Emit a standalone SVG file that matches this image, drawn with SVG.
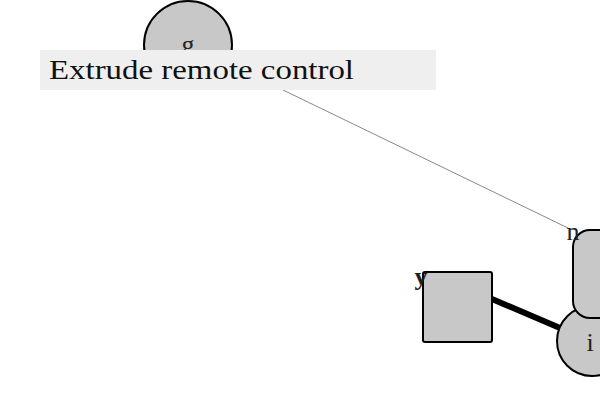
<svg xmlns="http://www.w3.org/2000/svg" width="600" height="400" viewBox="0 0 600 400">
<style>
.node{fill:#c8c8c8;stroke:#000;stroke-width:2}
.lbl{font-family:"Liberation Serif","Times New Roman",serif;font-size:26px;fill:#222}
</style>
<rect width="600" height="400" fill="#fff"/>
<g id="connectors">
<line x1="283" y1="90" x2="568" y2="228" stroke="#555" stroke-width="0.7"/>
<line x1="492" y1="299" x2="560" y2="328" stroke="#000" stroke-width="6"/>
</g>
<g id="node-g">
<circle class="node" cx="188" cy="45" r="44"/>
<text class="lbl" x="188" y="53" text-anchor="middle">g</text>
</g>
<g id="node-y">
<rect class="node" x="423" y="272" width="69" height="70" rx="2"/>
<text class="lbl" x="421" y="285" text-anchor="middle" font-weight="bold">y</text>
</g>
<g id="node-i">
<circle class="node" cx="592" cy="341" r="35"/>
<text class="lbl" x="590" y="351" text-anchor="middle">i</text>
</g>
<g id="node-n">
<rect class="node" x="573" y="230" width="60" height="88" rx="17"/>
<text class="lbl" x="573" y="240" text-anchor="middle">n</text>
</g>
<g id="label-box">
<rect x="40" y="50" width="396" height="40" fill="#efefef"/>
<text x="49" y="79" font-family="Liberation Serif,'Times New Roman',serif" font-size="28" fill="#111" textLength="305" lengthAdjust="spacingAndGlyphs">Extrude remote control</text>
</g>
</svg>
